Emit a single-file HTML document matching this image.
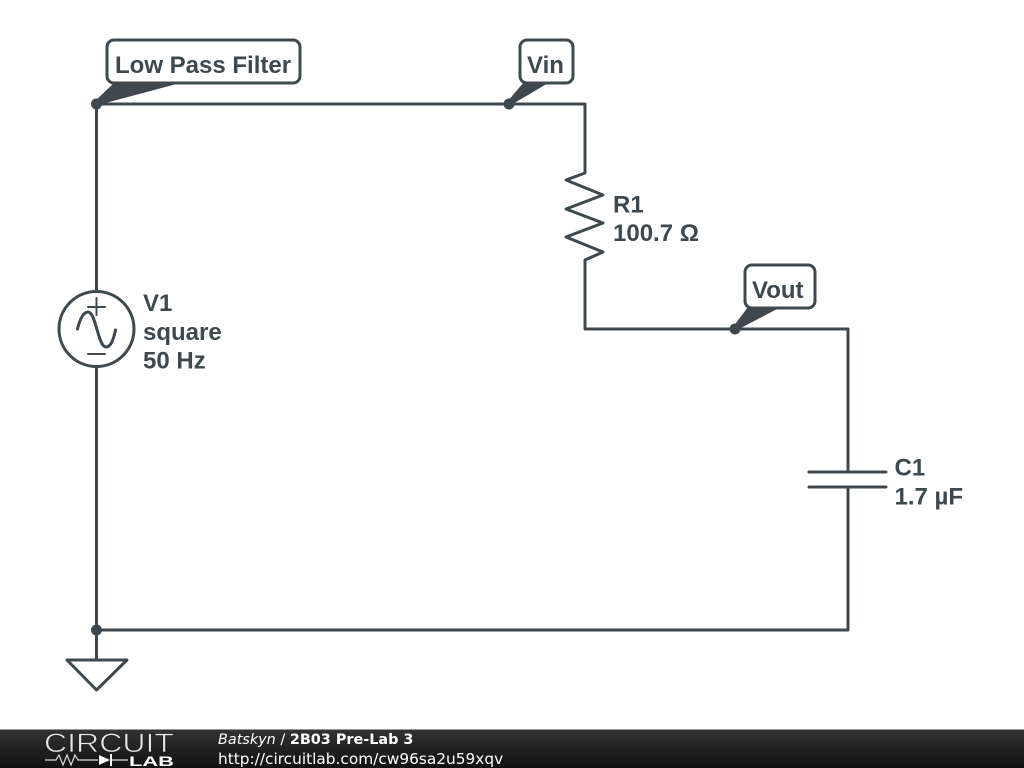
<!DOCTYPE html>
<html><head><meta charset="utf-8"><style>
html,body{margin:0;padding:0;background:#fff;width:1024px;height:768px;overflow:hidden}
svg{display:block}
.l{font-family:"Liberation Sans",sans-serif;font-weight:bold;font-size:24px;fill:#3f484d}
</style></head><body>
<svg width="1024" height="768" viewBox="0 0 1024 768">
<defs><linearGradient id="g" x1="0" y1="0" x2="0" y2="1"><stop offset="0" stop-color="#333"/><stop offset="1" stop-color="#111"/></linearGradient></defs>
<rect width="1024" height="768" fill="#fff"/>
<g fill="none" stroke="#3f484d" stroke-width="3" stroke-linecap="round" stroke-linejoin="round">
<path d="M96.500 104H585V173L566 180 603 195 566 209 603 223 566 237 603 252 585 260V329H848V472M848 487V630H96.500V104"/>
<path d="M809 472H886M809 487H886"/>
<path d="M96.500 630V660M67 660H127L96.500 690Z"/>
<circle cx="96.500" cy="329" r="37.500" fill="#fff"/>
<path d="M96.500 298V315M88 307H105M88 354H105" stroke-width="2"/>
<path d="M77.500 329C80 318 84 312 88 312C96 312 98 347 106 347C110 347 113 342 115.500 330"/>
<rect x="107" y="40" width="193" height="43" rx="7"/>
<rect x="520" y="40" width="53" height="43" rx="7"/>
<rect x="745" y="265" width="70" height="43" rx="7"/>
</g>
<g fill="#3f484d">
<circle cx="96.500" cy="104" r="5.500"/><circle cx="509" cy="104" r="5.500"/><circle cx="735" cy="329" r="5.500"/><circle cx="96.500" cy="630" r="5.500"/>
<path d="M94 102L115 82H184L98 105Z"/>
<path d="M507 102L524 82H550L511 105Z"/>
<path d="M733 327L748 307H781L737 330Z"/>
</g>
<text class="l" x="115" y="73">Low Pass Filter</text>
<text class="l" x="527" y="73">Vin</text>
<text class="l" x="752" y="298">Vout</text>
<text class="l" x="143" y="311">V1</text>
<text class="l" x="143" y="340">square</text>
<text class="l" x="143" y="368.500">50 Hz</text>
<text class="l" x="613" y="212.500">R1</text>
<text class="l" x="613" y="241">100.7 Ω</text>
<text class="l" x="894.500" y="475.500">C1</text>
<text class="l" x="894.500" y="504.500">1.7 µF</text>
<rect y="729" width="1024" height="39" fill="url(#g)"/>
<rect y="729" width="1024" height="1" fill="#999"/>
<text x="44" y="752" font-family="Liberation Sans,sans-serif" font-size="27" fill="#e8e8e8" stroke="#222" stroke-width="0.700" textLength="130" lengthAdjust="spacingAndGlyphs">CIRCUIT</text>
<path d="M45 760H56L59 755 63 765 67 755 71 765 75 755 78 760H98M112 760H128" fill="none" stroke="#ddd" stroke-width="1.200"/>
<path d="M99 755V765L110 760Z M110 754H112V766H110Z" fill="#fff"/>
<text x="129" y="766" font-family="Liberation Sans,sans-serif" font-size="14" font-weight="bold" fill="#fff" textLength="45" lengthAdjust="spacingAndGlyphs">LAB</text>
<text x="218" y="744" font-family="DejaVu Sans,sans-serif" font-size="14.400" fill="#fff"><tspan font-style="italic">Batskyn</tspan> / <tspan font-weight="bold">2B03 Pre-Lab 3</tspan></text>
<text x="218" y="764" font-family="DejaVu Sans,sans-serif" font-size="15.350" fill="#fff">http://circuitlab.com/cw96sa2u59xqv</text>
</svg>
</body></html>
